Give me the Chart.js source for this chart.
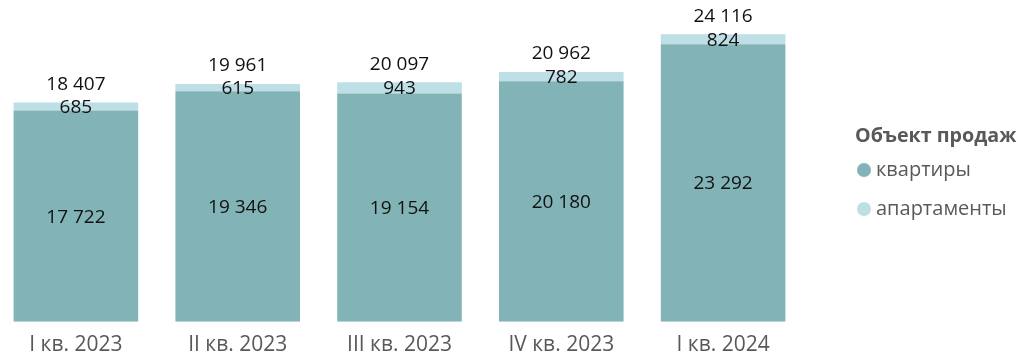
<!DOCTYPE html>
<html>
<head>
<meta charset="utf-8">
<script src="https://cdn.jsdelivr.net/npm/chart.js@4.4.1/dist/chart.umd.min.js"></script>
<style>
  html, body { margin: 0; padding: 0; background: #fff; overflow: hidden; }
  #wrap { position: relative; width: 1024px; height: 361px; overflow: hidden; }
  #box { position: absolute; left: -5px; top: 0; width: 1029px; height: 375px; }
  #legend { position: absolute; left: 855px; top: 0; font-family: "Open Sans", sans-serif; color: #595959; }
  #legend .title { position: absolute; top: 121px; left: 0; font-weight: bold; font-size: 19.7px; white-space: nowrap; line-height: 28px; }
  #legend .item { position: absolute; left: 2px; white-space: nowrap; font-size: 20px; line-height: 28px; }
  #legend .dot { display: inline-block; width: 14px; height: 14px; border-radius: 50%; vertical-align: -1px; margin-right: 5px; }
</style>
</head>
<body>
<div id="wrap">
  <div id="box"><canvas id="c"></canvas></div>
  <div id="legend">
    <div class="title">Объект продаж</div>
    <div class="item" id="li0" style="top:155px"><span class="dot"></span><span class="txt"></span></div>
    <div class="item" id="li1" style="top:194px"><span class="dot"></span><span class="txt"></span></div>
  </div>
</div>
<script>
const categories = ["I кв. 2023", "II кв. 2023", "III кв. 2023", "IV кв. 2023", "I кв. 2024"];
const flats = [17722, 19346, 19154, 20180, 23292];
const apartments = [685, 615, 943, 782, 824];
const totals = [18407, 19961, 20097, 20962, 24116];
const seriesNames = ["квартиры", "апартаменты"];
const colors = ["#82B4B7", "#BEDFE5"];

function fmt(v) { return String(v).replace(/\B(?=(\d{3})+(?!\d))/g, " "); }

seriesNames.forEach((n, i) => {
  const li = document.getElementById("li" + i);
  li.querySelector(".dot").style.background = colors[i];
  li.querySelector(".txt").textContent = n;
});

const labelPlugin = {
  id: "labels",
  afterDatasetsDraw(chart) {
    const ctx = chart.ctx;
    ctx.save();
    ctx.fillStyle = "#111";
    ctx.font = "19px 'Open Sans', sans-serif";
    ctx.textAlign = "center";
    ctx.textBaseline = "middle";
    chart.data.datasets.forEach((ds, di) => {
      const meta = chart.getDatasetMeta(di);
      meta.data.forEach((bar, i) => {
        const y = (bar.y + bar.base) / 2;
        ctx.fillText(fmt(ds.data[i]), bar.x, y + 1);
      });
    });
    const top = chart.getDatasetMeta(1);
    top.data.forEach((bar, i) => {
      ctx.fillText(fmt(totals[i]), bar.x, bar.y - 18);
    });
    ctx.restore();
  }
};

new Chart(document.getElementById("c"), {
  type: "bar",
  data: {
    labels: categories,
    datasets: [
      { label: seriesNames[0], data: flats, backgroundColor: colors[0] },
      { label: seriesNames[1], data: apartments, backgroundColor: colors[1] }
    ]
  },
  options: {
    responsive: true,
    maintainAspectRatio: false,
    animation: false,
    devicePixelRatio: 1,
    layout: { padding: { left: 0, right: 220, top: 0, bottom: 6 } },
    datasets: { bar: { categoryPercentage: 1, barPercentage: 0.77 } },
    plugins: { legend: { display: false }, tooltip: { enabled: false } },
    scales: {
      x: {
        stacked: true,
        grid: { display: false, drawTicks: false },
        border: { display: false },
        ticks: { color: "#595959", font: { family: "'Open Sans', sans-serif", size: 21 }, padding: 11 }
      },
      y: {
        stacked: true,
        display: false,
        min: 0,
        max: 27000
      }
    }
  },
  plugins: [labelPlugin]
});
</script>
</body>
</html>
